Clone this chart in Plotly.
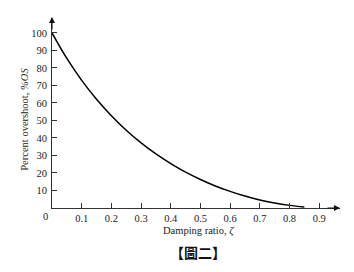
import plotly.graph_objects as go

# Damping ratio (zeta) and percent overshoot values
zeta = [0.0, 0.05, 0.10, 0.15, 0.20, 0.25, 0.30, 0.35, 0.40, 0.45,
        0.50, 0.55, 0.60, 0.65, 0.70, 0.75, 0.80, 0.85]
overshoot = [100.0, 85.4, 72.9, 62.1, 52.7, 44.4, 37.2, 30.9, 25.4, 20.5,
             16.3, 12.6, 9.5, 6.8, 4.6, 2.8, 1.5, 0.6]

x_ticks = [0.1, 0.2, 0.3, 0.4, 0.5, 0.6, 0.7, 0.8, 0.9]
x_tick_labels = ["0.1", "0.2", "0.3", "0.4", "0.5", "0.6", "0.7", "0.8", "0.9"]
y_ticks = [10, 20, 30, 40, 50, 60, 70, 80, 90, 100]
y_tick_labels = ["10", "20", "30", "40", "50", "60", "70", "80", "90", "100"]

W, H = 354, 272
L, R, T, B = 52, 14, 18, 63.5

serif = "Liberation Serif"
axis_col = "#333333"
txt_col = "#222222"

fig = go.Figure()
fig.add_trace(go.Scatter(x=zeta, y=overshoot, mode="lines",
                         line=dict(color="#000000", width=1.5, shape="spline"),
                         hoverinfo="skip", showlegend=False))

fig.update_layout(
    width=W, height=H,
    margin=dict(l=L, r=R, t=T, b=B, pad=0),
    paper_bgcolor="white", plot_bgcolor="white",
    font=dict(family=serif, size=10, color=txt_col),
    xaxis=dict(range=[0, 0.97], tickvals=x_ticks, ticktext=x_tick_labels,
               ticks="inside", ticklen=5, tickwidth=1, tickcolor=axis_col,
               showline=True, linecolor=axis_col, linewidth=1,
               showgrid=False, zeroline=False, fixedrange=True,
               ticklabelstandoff=0,
               tickfont=dict(family=serif, size=10.5, color=txt_col)),
    yaxis=dict(range=[0, 108.5], tickvals=y_ticks, ticktext=y_tick_labels,
               ticks="inside", ticklen=5, tickwidth=1, tickcolor=axis_col,
               showline=True, linecolor=axis_col, linewidth=1,
               showgrid=False, zeroline=False, fixedrange=True,
               ticklabelstandoff=2,
               tickfont=dict(family=serif, size=10.5, color=txt_col)),
)

pw, ph = W - L - R, H - T - B


def px_x(x):
    return (x - L) / pw


def px_y(y):
    # y measured from top of the page in pixels
    return (H - B - y) / ph


annotations = [
    # x-axis arrowhead
    dict(x=px_x(340), y=0, xref="paper", yref="paper",
         ax=-14, ay=0, text="", showarrow=True, arrowhead=2, arrowsize=1.1,
         arrowwidth=1.1, arrowcolor="#111111", standoff=0),
    # y-axis arrowhead
    dict(x=0, y=px_y(17), xref="paper", yref="paper",
         ax=0, ay=14, text="", showarrow=True, arrowhead=2, arrowsize=1.1,
         arrowwidth=1.1, arrowcolor="#111111", standoff=0),
    # origin label
    dict(x=px_x(45), y=px_y(217), xref="paper", yref="paper", text="0",
         showarrow=False, xanchor="center", yanchor="middle",
         font=dict(family=serif, size=10.5, color=txt_col)),
    # x-axis title
    dict(x=px_x(198), y=px_y(232), xref="paper", yref="paper",
         text="Damping ratio, <i>ζ</i>", showarrow=False,
         xanchor="center", yanchor="middle",
         font=dict(family=serif, size=10.5, color=txt_col)),
    # y-axis title
    dict(x=px_x(25), y=px_y(120), xref="paper", yref="paper",
         text="Percent overshoot, <i>%OS</i>", textangle=-90, showarrow=False,
         xanchor="center", yanchor="middle",
         font=dict(family=serif, size=10.5, color=txt_col)),
    # caption
    dict(x=px_x(198), y=px_y(253), xref="paper", yref="paper",
         text="<b>【圖二】</b>", showarrow=False,
         xanchor="center", yanchor="middle",
         font=dict(family="Noto Sans CJK TC", size=14, color="#111111")),
]
fig.update_layout(annotations=annotations)

fig.write_html("out.html")
